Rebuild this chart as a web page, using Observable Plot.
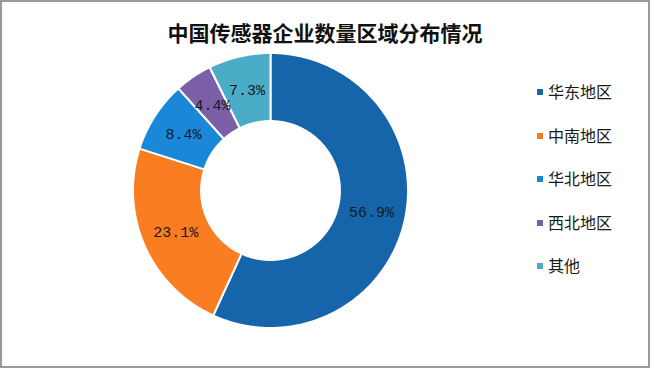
<!DOCTYPE html>
<html>
<head>
<meta charset="utf-8">
<script src="https://cdn.jsdelivr.net/npm/d3@7"></script>
<script src="https://cdn.jsdelivr.net/npm/@observablehq/plot@0.6"></script>
<style>
  html, body { margin: 0; padding: 0; background: #fff; }
  #wrap { position: relative; width: 650px; height: 368px; overflow: hidden; background: #fff; }
  #frame { position: absolute; left: 0; top: 0; width: 650px; height: 368px; box-sizing: border-box; border: 2px solid #9a9a9a; pointer-events: none; }
  #title { position: absolute; left: 0; width: 650px; top: 17px; text-align: center; font-family: "Noto Sans CJK SC", sans-serif; font-weight: 700; font-size: 21px; line-height: 30px; color: #111; }
  #legend { position: absolute; left: 537px; top: 79px; font-family: "Noto Sans CJK SC", sans-serif; font-size: 16px; color: #1a1a1a; }
  .item { height: 43.6px; display: flex; align-items: flex-start; line-height: 24px; }
  .sw { width: 6px; height: 6px; margin-right: 5px; margin-top: 10px; }
  #chart { position: absolute; left: 0; top: 0; }
</style>
</head>
<body>
<div id="wrap">
  <div id="chart"></div>
  <div id="title"></div>
  <div id="legend"></div>
  <div id="frame"></div>
</div>
<script>
const title = "中国传感器企业数量区域分布情况";
const regions = ["华东地区", "中南地区", "华北地区", "西北地区", "其他"];
const shares = [56.9, 23.1, 8.4, 4.4, 7.3];
const labels = ["56.9%", "23.1%", "8.4%", "4.4%", "7.3%"];
const colors = ["#1665ab", "#fb7d22", "#1b87d9", "#7b60a8", "#4aacc7"];

document.getElementById("title").textContent = title;

const legend = document.getElementById("legend");
regions.forEach((r, i) => {
  const d = document.createElement("div");
  d.className = "item";
  d.innerHTML = `<span class="sw" style="background:${colors[i]}"></span><span>${r}</span>`;
  legend.appendChild(d);
});

const inner = 0.505;
const total = d3.sum(shares);
const pie = d3.pie().sort(null).value(d => d)(shares);

// outline points for each slice (angle measured clockwise from top)
const outline = [];
pie.forEach((p, i) => {
  const a0 = p.startAngle, a1 = p.endAngle;
  const n = Math.max(4, Math.ceil((a1 - a0) / 0.01));
  for (let k = 0; k <= n; k++) {
    const a = a0 + (a1 - a0) * k / n;
    outline.push({region: regions[i], x: Math.sin(a), y: Math.cos(a)});
  }
  for (let k = n; k >= 0; k--) {
    const a = a0 + (a1 - a0) * k / n;
    outline.push({region: regions[i], x: inner * Math.sin(a), y: inner * Math.cos(a)});
  }
});

const rm = (1 + inner) / 2;
const labelData = pie.map((p, i) => {
  const a = (p.startAngle + p.endAngle) / 2;
  return {region: regions[i], label: labels[i], x: rm * Math.sin(a), y: rm * Math.cos(a)};
});

const cx = 270, cy = 190, R = 137.5;
const chart = Plot.plot({
  width: 650,
  height: 368,
  margin: 0,
  x: {domain: [-1, 1], range: [cx - R, cx + R], axis: null},
  y: {domain: [-1, 1], range: [cy + R, cy - R], axis: null},
  color: {domain: regions, range: colors},
  marks: [
    ...regions.map(r => Plot.line(outline.filter(d => d.region === r), {
      x: "x", y: "y", fill: colors[regions.indexOf(r)], stroke: "white", strokeWidth: 2, curve: "linear-closed"
    })),
    Plot.text(labelData, {x: "x", y: "y", text: "label", fontFamily: "Liberation Mono, monospace", fontSize: 15, fill: "#141b26"})
  ]
});
document.getElementById("chart").appendChild(chart);
</script>
</body>
</html>
